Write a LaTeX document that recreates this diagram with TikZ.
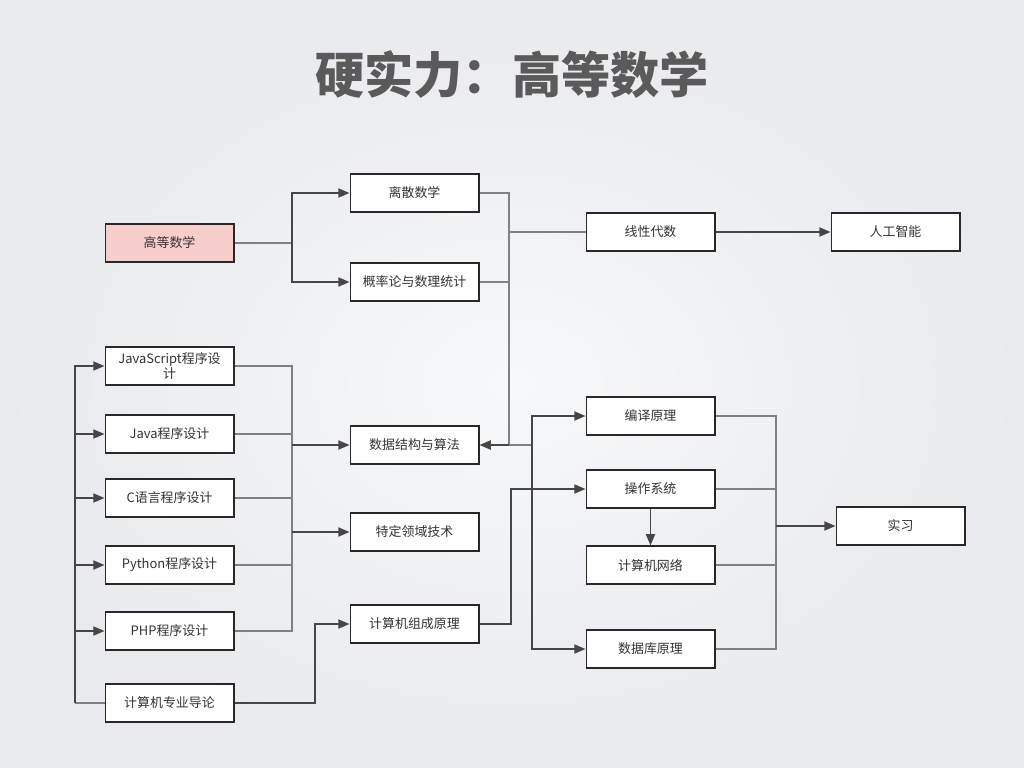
\documentclass[tikz,border=0pt]{standalone}
\usepackage{fontspec}
\setmainfont{Noto Sans CJK SC}
\usetikzlibrary{arrows.meta, positioning, calc}
\definecolor{bgouter}{RGB}{232,234,238}
\definecolor{bginner}{RGB}{247,248,250}
\definecolor{boxline}{RGB}{40,40,40}
\definecolor{txtgray}{RGB}{51,51,51}
\definecolor{lgray}  {RGB}{128,128,128}
\definecolor{dgray}  {RGB}{70,70,70}
\definecolor{pinkbg} {RGB}{248,206,204}
\definecolor{titgray}{RGB}{90,90,90}

\tikzset{
  box/.style={draw=boxline, line width=1.4pt, fill=white,
              minimum width=3.2cm, minimum height=0.93cm, inner sep=1pt,
              align=center, text=txtgray,
              font=\fontsize{9.2}{10.5}\selectfont},
  pinkbox/.style={box, fill=pinkbg},
  link/.style={draw=lgray, line width=1pt},
  arr/.style={draw=dgray, line width=1.1pt,
              -{Triangle[length=8pt, width=6.5pt]}},
}

\begin{document}
\begin{tikzpicture}[x=0.025cm, y=-0.025cm]
  \shade[inner color=bginner, outer color=bgouter] (0,0) rectangle (1024,768);
  \useasboundingbox (0,0) rectangle (1024,768);

  \node[text=titgray, font=\fontsize{35}{40}\selectfont\bfseries]
    (title) at (512,75) {硬实力：高等数学};

  % top part
  \node[pinkbox] (gdsx)   at (169.5,243) {高等数学};
  \node[box]     (lisan)  at (414.5,193) {离散数学};
  \node[box]     (gailv)  at (414.5,282) {概率论与数理统计};
  \node[box]     (xxds)   at (650.5,232) {线性代数};
  \node[box]     (rgzn)   at (895.5,232) {人工智能};

  % language column
  \node[box] (js)     at (169.5,366) {JavaScript程序设\\计};
  \node[box] (java)   at (169.5,434) {Java程序设计};
  \node[box] (clang)  at (169.5,498) {C语言程序设计};
  \node[box] (python) at (169.5,565) {Python程序设计};
  \node[box] (php)    at (169.5,631) {PHP程序设计};
  \node[box] (daolun) at (169.5,703) {计算机专业导论};

  % middle column
  \node[box] (sjjg)    at (414.5,445) {数据结构与算法};
  \node[box] (tdly)    at (414.5,532) {特定领域技术};
  \node[box] (zucheng) at (414.5,624) {计算机组成原理};

  % right column
  \node[box] (bianyi)  at (650.5,416) {编译原理};
  \node[box] (caozuo)  at (650.5,489) {操作系统};
  \node[box] (wangluo) at (650.5,565) {计算机网络};
  \node[box] (shujuku) at (650.5,649) {数据库原理};
  \node[box] (shixi)   at (900.5,526) {实习};

  % junction points
  \coordinate (jm) at (292,243);
  \coordinate (bA) at (509,445);
  \coordinate (bB) at (532,445);
  \coordinate (bC) at (292,445);
  \coordinate (bL) at (75,703);
  \coordinate (bD) at (315,624);
  \coordinate (bE) at (511,489);
  \coordinate (bF) at (776,526);

  % maths
  \draw[link] (gdsx.east) -- (jm);
  \draw[arr] (jm) |- (lisan.west);
  \draw[arr] (jm) |- (gailv.west);
  \draw[link] (lisan.east) -| (bA);
  \draw[link] (gailv.east) -| (bA);
  \draw[link] (bA |- xxds.west) -- (xxds.west);
  \draw[arr] (bA) -- (sjjg.east);
  \draw[arr] (xxds.east) -- (rgzn.west);

  % programming
  \draw[link] (daolun.west) -- (bL);
  \foreach \n in {js, java, clang, python, php}
    \draw[arr] (bL) |- (\n.west);
  \foreach \n in {js, java, clang, python, php}
    \draw[link] (\n.east) -| (bC);
  \draw[arr] (bC) -- (sjjg.west);
  \draw[arr] (bC |- tdly.west) -- (tdly.west);

  % systems
  \draw[link] (bA) -- (bB);
  \draw[arr] (bB) |- (bianyi.west);
  \draw[arr] (bB) |- (shujuku.west);
  \draw[arr] (daolun.east) -| (bD) -- (zucheng.west);
  \draw[arr] (zucheng.east) -| (bE) -- (caozuo.west);
  \draw[arr] (caozuo.south) -- (wangluo.north);
  \foreach \n in {bianyi, caozuo, wangluo, shujuku}
    \draw[link] (\n.east) -| (bF);
  \draw[arr] (bF) -- (shixi.west);
\end{tikzpicture}
\end{document}
